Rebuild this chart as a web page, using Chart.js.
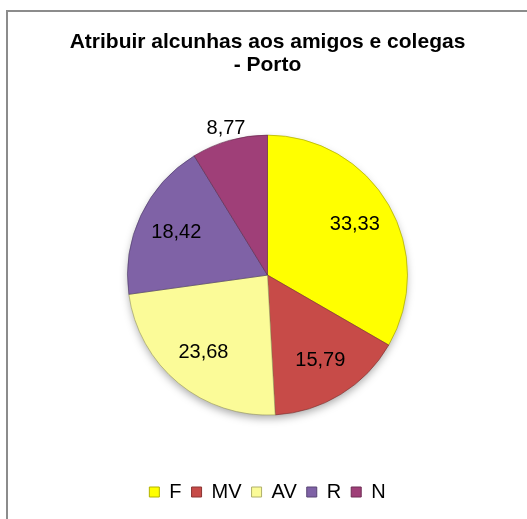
<!DOCTYPE html>
<html>
<head>
<meta charset="utf-8">
<script src="https://cdn.jsdelivr.net/npm/chart.js@4"></script>
<style>
  html, body { margin: 0; padding: 0; background: #fff; overflow: hidden; }
  #wrap { position: relative; width: 527px; height: 519px; }
</style>
</head>
<body>
<div id="wrap"><canvas id="pieCanvas" width="527" height="519"></canvas></div>
<script>
const titleLines = ['Atribuir alcunhas aos amigos e colegas', '- Porto'];
const categories = ['F', 'MV', 'AV', 'R', 'N'];
const values = [33.33, 15.79, 23.68, 18.42, 8.77];
const colors = ['#ffff00', '#c74b48', '#fbfb98', '#7f62a6', '#9f3f78'];

const FONT = '"Liberation Sans", Arial, sans-serif';

function shade(hex, f) {
  const n = parseInt(hex.slice(1), 16);
  const r = Math.round(((n >> 16) & 255) * f);
  const g = Math.round(((n >> 8) & 255) * f);
  const b = Math.round((n & 255) * f);
  return `rgb(${r},${g},${b})`;
}

// bevel-ish look: flat fill, darker towards the rim
function sliceFill(c) {
  const base = colors[c.dataIndex];
  const arc = c.chart.getDatasetMeta(0).data[c.dataIndex];
  if (!arc || !arc.outerRadius) return base;
  const g = c.chart.ctx.createRadialGradient(arc.x, arc.y, 0, arc.x, arc.y, arc.outerRadius);
  g.addColorStop(0, base);
  g.addColorStop(0.9, base);
  g.addColorStop(0.97, shade(base, 0.88));
  g.addColorStop(1, shade(base, 0.65));
  return g;
}

const frame = {
  id: 'frame',
  beforeDraw(chart) {
    const ctx = chart.ctx;
    ctx.save();
    ctx.fillStyle = '#8c8c8c';
    ctx.fillRect(6, 10, 2, chart.height);
    ctx.fillRect(6, 10, chart.width, 2);
    ctx.restore();
  },
  beforeDatasetsDraw(chart) {
    const arc = chart.getDatasetMeta(0).data[0];
    if (!arc) return;
    const ctx = chart.ctx;
    ctx.save();
    ctx.shadowColor = 'rgba(0,0,0,0.35)';
    ctx.shadowBlur = 8;
    ctx.shadowOffsetY = 4;
    ctx.fillStyle = '#fff';
    ctx.beginPath();
    ctx.arc(arc.x, arc.y, arc.outerRadius - 1, 0, Math.PI * 2);
    ctx.fill();
    ctx.restore();
  }
};

const valueLabels = {
  id: 'valueLabels',
  afterDatasetsDraw(chart) {
    const ctx = chart.ctx;
    const meta = chart.getDatasetMeta(0);
    ctx.save();
    ctx.font = '20px ' + FONT;
    ctx.fillStyle = '#000';
    ctx.textAlign = 'center';
    ctx.textBaseline = 'middle';
    meta.data.forEach((arc, i) => {
      const mid = (arc.startAngle + arc.endAngle) / 2;
      const k = values[i] < 10 ? 1.09 : 0.72;
      const x = arc.x + Math.cos(mid) * arc.outerRadius * k;
      const y = arc.y + Math.sin(mid) * arc.outerRadius * k;
      ctx.fillText(values[i].toFixed(2).replace('.', ','), x, y);
    });
    ctx.restore();
  }
};

new Chart(document.getElementById('pieCanvas'), {
  type: 'pie',
  data: {
    labels: categories,
    datasets: [{
      data: values,
      backgroundColor: sliceFill,
      borderColor: colors.map(c => shade(c, 0.6)),
      borderWidth: 0.6,
      radius: 140
    }]
  },
  options: {
    responsive: false,
    animation: false,
    layout: { padding: { left: 8, bottom: 7 } },
    plugins: {
      title: {
        display: true,
        text: titleLines,
        color: '#000',
        font: { family: FONT, size: 21, weight: 'bold', lineHeight: 1.1 },
        padding: { top: 31, bottom: 1 }
      },
      legend: {
        position: 'bottom',
        labels: {
          color: '#000',
          font: { family: FONT, size: 20 },
          boxWidth: 10,
          boxHeight: 10,
          padding: 10,
          generateLabels(chart) {
            return categories.map((name, i) => ({
              text: name,
              fillStyle: colors[i],
              strokeStyle: shade(colors[i], 0.7),
              lineWidth: 1,
              hidden: false,
              index: i
            }));
          }
        }
      },
      tooltip: { enabled: false }
    }
  },
  plugins: [frame, valueLabels]
});
</script>
</body>
</html>
